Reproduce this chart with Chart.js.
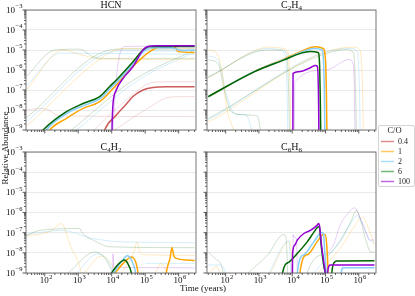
<!DOCTYPE html>
<html>
<head>
<meta charset="utf-8">
<script src="https://cdn.jsdelivr.net/npm/chart.js@4.4.1/dist/chart.umd.min.js"></script>
<style>
body{margin:0;background:#fff;width:415px;height:296px;overflow:hidden;position:relative;font-family:"Liberation Serif",serif;color:#111;}
canvas{position:absolute;}
#legbox{position:absolute;left:378px;top:125px;width:35px;height:60px;border:1px solid #d4d4d4;border-radius:2px;background:#fff;}
#legbox canvas{position:absolute;left:0;top:0;}
#labels{left:0;top:0;pointer-events:none;}
</style>
</head>
<body>
<canvas id="cHCN" width="200" height="140" style="left:0;top:0"></canvas>
<canvas id="cC2H4" width="178" height="140" style="left:200px;top:0"></canvas>
<canvas id="cC4H2" width="200" height="156" style="left:0;top:140px"></canvas>
<canvas id="cC6H6" width="178" height="156" style="left:200px;top:140px"></canvas>
<div id="legbox"><canvas id="cLeg" width="35" height="60"></canvas></div>
<canvas id="labels" width="415" height="296"></canvas>
<script>
// C/O ratios shown in the legend
const ratios = ['0.4', '1', '2', '6', '100'];

// axis ranges (years, relative abundance)
const xMin = 27.5, xMax = 3.3e6;
const yMin = 1e-9, yMax = 1e-3;

// shared axis titles
const xTitle = 'Time (years)';
const yTitle = 'Relative Abundance';

// ---- HCN ----  main runs: [times, abundances], one per C/O ratio
const hcnMain = [
  [[5500, 6150, 13800, 27500, 43250, 85900, 171000, 428000, 3e6],
   [5e-10, 1e-9, 5.6e-9, 2e-8, 4.7e-8, 1e-7, 1.35e-7, 1.45e-7, 1.45e-7]],
  [[125, 141, 444, 1394, 4385, 13800, 43250, 136000, 271000, 428000, 760000, 955000, 3e6],
   [7e-10, 1e-9, 3.8e-9, 1.2e-8, 2.6e-8, 1.8e-7, 1.5e-6, 8.3e-6, 1.5e-5, 1.65e-5, 1.5e-5, 8.3e-6, 7.5e-6]],
  [[100, 112, 470, 1500, 4600, 9000, 14500, 45000, 90000, 150000, 600000, 900000, 1.2e6, 3e6],
   [7e-10, 1e-9, 7e-9, 1.7e-8, 3.8e-8, 1.2e-7, 2.6e-7, 2.2e-6, 8.5e-6, 1.3e-5, 1.3e-5, 1.1e-5, 9.5e-6, 1e-5]],
  [[80, 89, 444, 1394, 4385, 8710, 13800, 43250, 85900, 136000, 3e6],
   [8e-10, 1e-9, 8.3e-9, 2.1e-8, 4.7e-8, 1.5e-7, 3.2e-7, 2.6e-6, 1e-5, 1.5e-5, 1.5e-5]],
  [[10200, 10250, 10470, 10960, 13800, 21900, 43250, 85900, 121000, 215000, 3e6],
   [1e-10, 1e-9, 4.7e-9, 2.1e-8, 1e-7, 3.8e-7, 1.5e-6, 1e-5, 1.5e-5, 1.65e-5, 1.65e-5]]
];
// other runs, drawn faint: [ratio index, times, abundances]
const hcnFaint = [
  [3, [28, 200, 1100, 2760, 6000, 3e6], [4.6e-7, 1e-5, 1.1e-5, 4.6e-6, 3.8e-6, 3.8e-6]],
  [1, [28, 353, 1100, 5000, 3e6], [1e-7, 1e-5, 6e-6, 3.5e-6, 3.3e-6]],
  [2, [28, 300, 3e6], [1.5e-7, 7e-6, 6e-6]],
  [3, [28, 8700, 20000, 3e6], [4e-9, 1e-5, 1.1e-5, 1.1e-5]],
  [2, [28, 9500, 25000, 3e6], [2.5e-9, 8e-6, 9e-6, 9e-6]],
  [1, [28, 11000, 30000, 3e6], [1.5e-9, 9e-6, 1.2e-5, 1.2e-5]],
  [3, [630, 43000, 3e6], [1e-9, 3e-7, 1e-5]],
  [2, [900, 60000, 3e6], [1e-9, 3e-7, 8e-6]],
  [4, [10500, 11000, 13000, 16000, 25000, 3e6], [1e-10, 1e-9, 1e-7, 3e-6, 1.5e-5, 1.6e-5]],
  [0, [28, 90, 300, 3e6], [1e-8, 1.2e-8, 5e-9, 4.7e-9]],
  [0, [3000, 20000, 200000, 3e6], [1e-9, 2e-8, 2.5e-7, 2.6e-7]],
  [0, [12000, 100000, 600000, 3e6], [1e-9, 1e-8, 4.5e-8, 4.7e-8]]
];

// ---- C2H4 ----
const c2h4Main = [
  null,
  [[30, 741, 5740, 17800, 49700, 85000, 100000, 107000, 112000],
   [4.5e-8, 8.5e-7, 3.6e-6, 8.3e-6, 1.47e-5, 1.2e-5, 3e-6, 5e-8, 1e-10]],
  [[30, 741, 5740, 17800, 45000, 80000, 88000, 93000, 97000],
   [4.6e-8, 8.4e-7, 3.4e-6, 7.5e-6, 1.2e-5, 1e-5, 2e-6, 4e-8, 1e-10]],
  [[30, 741, 5740, 17800, 35300, 60000, 66800, 70000, 73000],
   [4.7e-8, 8.3e-7, 3.2e-6, 6.8e-6, 8.3e-6, 7.5e-6, 1.5e-6, 3e-8, 1e-10]],
  [[10400, 10500, 10600, 17800, 35300, 49700, 57000, 62000, 64000],
   [1e-10, 1e-9, 6.8e-7, 8.5e-7, 1.3e-6, 1.7e-6, 1.5e-6, 3e-8, 1e-10]]
];
const c2h4Faint = [
  [1, [30, 50, 76, 110, 150, 250], [1e-5, 8e-6, 1e-6, 1e-8, 2e-9, 1e-10]],
  [3, [30, 60, 90, 150, 500, 900, 1100, 1300], [3.2e-6, 2e-6, 1e-7, 8e-9, 5.6e-9, 5e-9, 1e-9, 1e-10]],
  [2, [30, 60, 110, 200, 400, 600, 800], [5e-6, 3e-6, 5e-8, 6e-9, 6e-9, 1e-9, 1e-10]],
  [3, [30, 1840, 5000, 6800, 7800, 8500], [4.6e-7, 1e-5, 1e-5, 7e-6, 1e-7, 1e-10]],
  [1, [30, 2200, 5500, 7500, 8600, 9200], [4e-7, 1.4e-5, 1.2e-5, 8e-6, 1e-7, 1e-10]],
  [2, [30, 2000, 4500, 6000, 7000, 7500], [4.3e-7, 1.2e-5, 1e-5, 6e-6, 1e-7, 1e-10]],
  [3, [30, 273000, 432000, 700000, 800000, 870000], [3.8e-9, 1e-5, 1.05e-5, 7e-6, 1e-7, 1e-10]],
  [1, [30, 676000, 1.1e6, 1.3e6, 1.4e6], [2.5e-9, 1.4e-5, 1e-5, 1e-7, 1e-10]],
  [2, [30, 500000, 900000, 1.05e6, 1.12e6], [3.2e-9, 1.2e-5, 9e-6, 1e-7, 1e-10]],
  [4, [11400, 11600, 12000, 100000, 432000, 520000, 680000, 740000, 780000], [1e-10, 1e-9, 2.6e-7, 1e-6, 3.2e-6, 3.3e-6, 2e-6, 1e-7, 1e-10]]
];

// ---- C4H2 ----
const c4h2Main = [
  null,
  [[12500, 22000, 38700, 52000, 61100, 65000, 400000, 428000, 560000, 630000, 720000, 854000, 3e6],
   [1e-9, 3e-9, 6.3e-9, 3.5e-9, 1e-9, 3e-10, 3e-10, 1e-9, 6e-9, 1.86e-8, 7e-9, 5.3e-9, 4.2e-9]],
  [[11500, 18000, 29400, 40000, 52000, 56000],
   [1e-9, 3e-9, 7.1e-9, 4e-9, 1e-9, 4e-10]],
  [[9770, 15000, 24400, 30000, 38700, 42000],
   [1e-9, 2.5e-9, 4.4e-9, 3e-9, 1e-9, 4e-10]],
  null
];
const c4h2Faint = [
  [3, [27, 71, 1110, 1300, 3000, 8700, 3e6], [7e-8, 1.3e-7, 1.6e-7, 1e-7, 4e-8, 2e-8, 1.8e-8]],
  [2, [27, 314, 3000, 20000, 3e6], [8e-8, 1.3e-7, 5e-8, 3.5e-8, 3.2e-8]],
  [1, [27, 150, 314, 600, 1110, 1600], [6.5e-8, 1.2e-7, 2.8e-7, 2e-8, 2e-9, 1e-10]],
  [3, [500, 3110, 6000, 11000], [1e-9, 1.1e-8, 6e-9, 1e-9]],
  [2, [900, 3800, 7000, 12000], [1e-9, 9e-9, 5e-9, 1e-9]],
  [1, [1500, 5000, 8500, 14000], [1e-9, 7e-9, 4e-9, 1e-9]],
  [1, [20000, 45000, 57000, 70000, 100000, 3e6], [1e-9, 1e-8, 3.5e-8, 1e-8, 8e-9, 7.5e-9]],
  [4, [10500, 11000, 11500, 13000, 3e6], [1e-10, 9e-9, 2e-9, 1.9e-9, 1.8e-9]],
  [1, [200000, 300000, 400000, 500000], [1e-9, 3e-9, 1.5e-9, 5e-10]],
  [2, [100000, 3e6], [3e-9, 3e-9]]
];

// ---- C6H6 ----
const c6h6Main = [
  null,
  [[17000, 17100, 28200, 55700, 87500, 98400, 108000, 118000, 123000],
   [1e-10, 1e-9, 8e-9, 3.5e-8, 8.1e-8, 8e-8, 3e-8, 2e-9, 1e-10]],
  [[14000, 14200, 22400, 44400, 78300, 87500, 95000, 105000, 110000, 290000, 300000, 330000, 2.96e6],
   [1e-10, 1e-9, 8e-9, 3.5e-8, 1.03e-7, 9e-8, 1e-8, 1e-9, 1e-10, 1e-10, 1e-9, 1.8e-9, 1.8e-9]],
  [[5000, 5120, 8000, 14200, 28200, 44400, 62400, 66000, 75000, 90000, 98400, 110000, 150000, 155000, 190000, 218000, 2.96e6],
   [5e-10, 1e-9, 3.5e-9, 9.3e-9, 3.5e-8, 1.03e-7, 1.95e-7, 1.8e-7, 2e-8, 2e-9, 1e-9, 1e-10, 1e-10, 1e-9, 3.5e-9, 3.9e-9, 4e-9]],
  [[10000, 10100, 10300, 11900, 14200, 22400, 35300, 55700, 62400, 66000, 75000, 90000, 98400, 105000, 115000, 140000, 2.96e6],
   [1e-10, 1e-9, 1e-8, 2.4e-8, 4.3e-8, 9.1e-8, 1.3e-7, 2.3e-7, 2.85e-7, 2.3e-7, 3e-8, 3e-9, 1e-9, 1e-10, 1e-9, 2.5e-9, 2.5e-9]]
];
const c6h6Faint = [
  [4, [120000, 174000, 273000, 432000, 760000, 1.07e6, 1.69e6, 2.12e6, 2.96e6], [1e-8, 2.4e-8, 2.3e-7, 7.4e-7, 1.7e-6, 6e-7, 9.1e-8, 4.3e-8, 4.3e-8]],
  [4, [10500, 10700, 11500, 13500, 14500], [1e-10, 8e-8, 6e-8, 5e-8, 1e-10]],
  [3, [28000, 28200, 100000, 273000, 600000, 850000, 1.2e6, 1.69e6, 2.3e6, 2.96e6], [1e-10, 1e-9, 8e-9, 3.5e-8, 4e-7, 1.3e-6, 3e-7, 3.5e-8, 1.1e-8, 1.1e-8]],
  [2, [45000, 200000, 500000, 900000, 1.3e6, 2e6, 2.96e6], [1e-9, 2e-8, 2e-7, 7e-7, 3e-7, 5e-8, 3e-8]],
  [1, [60000, 300000, 800000, 1.3e6, 2e6, 2.96e6], [1e-9, 2e-8, 2.5e-7, 6e-7, 1.5e-7, 2.5e-8]],
  [3, [30, 50, 85, 95], [1.1e-8, 5e-9, 1e-9, 1e-10]],
  [2, [30, 60, 100, 110], [2.5e-9, 2.5e-9, 1e-9, 1e-10]],
  [1, [30, 55, 90], [1e-9, 2e-9, 1e-10]],
  [3, [470, 1840, 5500, 6500, 7300, 7600], [1e-9, 8e-9, 8e-8, 6e-8, 1e-9, 1e-10]],
  [2, [2000, 8000, 9000, 9500], [1e-9, 4e-8, 1e-9, 1e-10]],
  [1, [2200, 8000, 9800, 10200], [1e-9, 3.5e-8, 2e-9, 1e-10]]
];

// colours per ratio
const lineColors = ['#cd5c5c', '#ffa500', '#87cefa', '#006400', '#9400d3'];
const faintColors = ['rgba(205,92,92,0.25)', 'rgba(255,165,0,0.28)', 'rgba(135,206,250,0.4)', 'rgba(0,100,0,0.22)', 'rgba(148,0,211,0.22)'];
const legendColors = ['rgba(205,92,92,0.7)', 'rgba(255,165,0,0.6)', 'rgba(135,206,250,0.7)', 'rgba(0,128,0,0.55)', 'rgba(148,0,211,0.6)'];

const serif = '"Liberation Serif", serif';
Chart.defaults.font.family = serif;

function mantissa(v) {
  const e = Math.floor(Math.log10(v) + 1e-9);
  return v / Math.pow(10, e);
}

function toPoints(t, v) {
  return t.map((x, i) => ({x: x, y: v[i]}));
}

function buildDatasets(main, faint) {
  const ds = [];
  // the first dataset is drawn on top, so main runs go first, highest ratio first
  for (let k = main.length - 1; k >= 0; k--) {
    if (!main[k]) continue;
    ds.push({
      data: toPoints(main[k][0], main[k][1]),
      borderColor: lineColors[k], borderWidth: 1.5
    });
  }
  faint.forEach(f => {
    ds.push({
      data: toPoints(f[1], f[2]),
      borderColor: faintColors[f[0]], borderWidth: 0.9
    });
  });
  ds.forEach(d => {
    d.pointRadius = 0;
    d.fill = false;
    d.cubicInterpolationMode = 'monotone';
    d.clip = 0;
  });
  return ds;
}

function drawPow(ctx, e, x, y, align) {
  const base = '10';
  const ex = (e < 0 ? '\u2212' : '') + Math.abs(e);
  ctx.font = '9px ' + serif;
  const wb = ctx.measureText(base).width;
  ctx.font = '6.5px ' + serif;
  const we = ctx.measureText(ex).width;
  const x0 = align === 'right' ? x - wb - we - 0.5 : x - (wb + we) / 2;
  ctx.textAlign = 'left';
  ctx.textBaseline = 'middle';
  ctx.font = '9px ' + serif;
  ctx.fillText(base, x0, y);
  ctx.font = '6.5px ' + serif;
  ctx.fillText(ex, x0 + wb + 0.5, y - 3.8);
}

function drawTitle(ctx, text, cx, baseY) {
  const segs = text.split(/(_\d)/).filter(s => s).map(s =>
    s[0] === '_' ? {t: s.slice(1), sub: true} : {t: s, sub: false});
  let w = 0;
  segs.forEach(s => {
    ctx.font = (s.sub ? '7px ' : '10px ') + serif;
    s.w = ctx.measureText(s.t).width;
    w += s.w;
  });
  let x = cx - w / 2;
  ctx.textAlign = 'left';
  ctx.textBaseline = 'alphabetic';
  segs.forEach(s => {
    ctx.font = (s.sub ? '7px ' : '10px ') + serif;
    ctx.fillText(s.t, x, baseY + (s.sub ? 2.5 : 0));
    x += s.w;
  });
}

// frame, tick marks, power-of-ten labels and panel title
const panelPlugin = {
  id: 'panel',
  afterDraw(chart, args, opts) {
    const ctx = chart.ctx, a = chart.chartArea;
    const xs = chart.scales.x, ys = chart.scales.y;
    ctx.save();
    ctx.strokeStyle = '#333';
    ctx.lineWidth = 0.8;
    ctx.beginPath();
    xs.ticks.forEach(t => {
      const m = mantissa(t.value), r = Math.round(m);
      if (Math.abs(m - r) > 1e-6 || r < 1 || r > 9) return;
      const px = xs.getPixelForValue(t.value);
      ctx.moveTo(px, a.bottom);
      ctx.lineTo(px, a.bottom + (r === 1 ? 3.5 : 2));
    });
    ys.ticks.forEach(t => {
      const m = mantissa(t.value), r = Math.round(m);
      if (Math.abs(m - r) > 1e-6 || r < 1 || r > 9) return;
      const py = ys.getPixelForValue(t.value);
      ctx.moveTo(a.left, py);
      ctx.lineTo(a.left - (r === 1 ? 3.5 : 2), py);
    });
    ctx.stroke();
    ctx.strokeStyle = '#555';
    ctx.strokeRect(a.left, a.top, a.right - a.left, a.bottom - a.top);

    ctx.fillStyle = '#111';
    if (opts.yLabels) {
      const e0 = Math.ceil(Math.log10(ys.min) - 1e-9), e1 = Math.floor(Math.log10(ys.max) + 1e-9);
      for (let e = e0; e <= e1; e++) {
        drawPow(ctx, e, a.left - 3.5, ys.getPixelForValue(Math.pow(10, e)) + 0.5, 'right');
      }
    }
    if (opts.xLabels) {
      const e0 = Math.ceil(Math.log10(xs.min) - 1e-9), e1 = Math.floor(Math.log10(xs.max) + 1e-9);
      for (let e = e0; e <= e1; e++) {
        drawPow(ctx, e, xs.getPixelForValue(Math.pow(10, e)) + 1, a.bottom + 8, 'center');
      }
    }
    drawTitle(ctx, opts.title, (a.left + a.right) / 2, a.top - 2.5);
    ctx.restore();
  }
};

function gridColor(c) {
  if (!c.tick) return 'rgba(0,0,0,0)';
  const m = mantissa(c.tick.value);
  return Math.abs(m - 1) < 1e-6 ? '#e4e4e4' : 'rgba(0,0,0,0)';
}

function makePanel(id, main, faint, title, o) {
  new Chart(document.getElementById(id), {
    type: 'line',
    data: {datasets: buildDatasets(main, faint)},
    options: {
      animation: false,
      responsive: false,
      devicePixelRatio: 1,
      events: [],
      layout: {padding: o.pad},
      scales: {
        x: {
          type: 'logarithmic', min: xMin, max: xMax,
          grid: {display: false, drawTicks: false},
          border: {display: false},
          ticks: {display: false, autoSkip: false},
          afterFit: s => { s.height = o.xh; }
        },
        y: {
          type: 'logarithmic', min: yMin, max: yMax,
          grid: {color: gridColor, lineWidth: 0.8, drawTicks: false},
          border: {display: false},
          ticks: {display: false, autoSkip: false},
          afterFit: s => { s.width = o.yw; }
        }
      },
      plugins: {
        legend: {display: false},
        tooltip: {enabled: false},
        panel: {title: title, xLabels: o.xl, yLabels: o.yl}
      }
    },
    plugins: [panelPlugin]
  });
}

makePanel('cHCN', hcnMain, hcnFaint, 'HCN',
  {pad: {left: 0, right: 4, top: 10, bottom: 0}, xh: 10, yw: 26, xl: false, yl: true});
makePanel('cC2H4', c2h4Main, c2h4Faint, 'C_2H_4',
  {pad: {left: 0, right: 2, top: 10, bottom: 0}, xh: 10, yw: 7, xl: false, yl: false});
makePanel('cC4H2', c4h2Main, c4h2Faint, 'C_4H_2',
  {pad: {left: 0, right: 4, top: 12, bottom: 0}, xh: 23, yw: 26, xl: true, yl: true});
makePanel('cC6H6', c6h6Main, c6h6Faint, 'C_6H_6',
  {pad: {left: 0, right: 2, top: 12, bottom: 0}, xh: 23, yw: 7, xl: true, yl: false});

// legend
new Chart(document.getElementById('cLeg'), {
  type: 'line',
  data: {
    datasets: ratios.map((r, i) => ({label: r, data: [], borderColor: legendColors[i], borderWidth: 1.5}))
  },
  options: {
    animation: false,
    responsive: false,
    devicePixelRatio: 1,
    events: [],
    layout: {padding: 0},
    scales: {x: {display: false}, y: {display: false}},
    plugins: {
      tooltip: {enabled: false},
      legend: {
        display: true,
        position: 'top',
        align: 'start',
        maxHeight: 60,
        title: {display: true, text: 'C/O', color: '#222', font: {size: 8.5, lineHeight: 1}, padding: {top: 1, bottom: 0}},
        labels: {
          color: '#222', font: {size: 8}, padding: 2,
          usePointStyle: true, pointStyle: 'line', pointStyleWidth: 13,
          generateLabels: chart => chart.data.datasets.map((d, i) => ({
            text: d.label, strokeStyle: d.borderColor, fillStyle: d.borderColor,
            lineWidth: 1.5, pointStyle: 'line', hidden: false, datasetIndex: i
          }))
        }
      }
    }
  }
});

// shared axis titles on an overlay
(function () {
  const ctx = document.getElementById('labels').getContext('2d');
  ctx.fillStyle = '#111';
  ctx.font = '9px ' + serif;
  ctx.textAlign = 'center';
  ctx.textBaseline = 'middle';
  ctx.fillText(xTitle, 203, 289);
  ctx.save();
  ctx.translate(5.5, 148);
  ctx.rotate(-Math.PI / 2);
  ctx.fillText(yTitle, 0, 0);
  ctx.restore();
})();
</script>
</body>
</html>
